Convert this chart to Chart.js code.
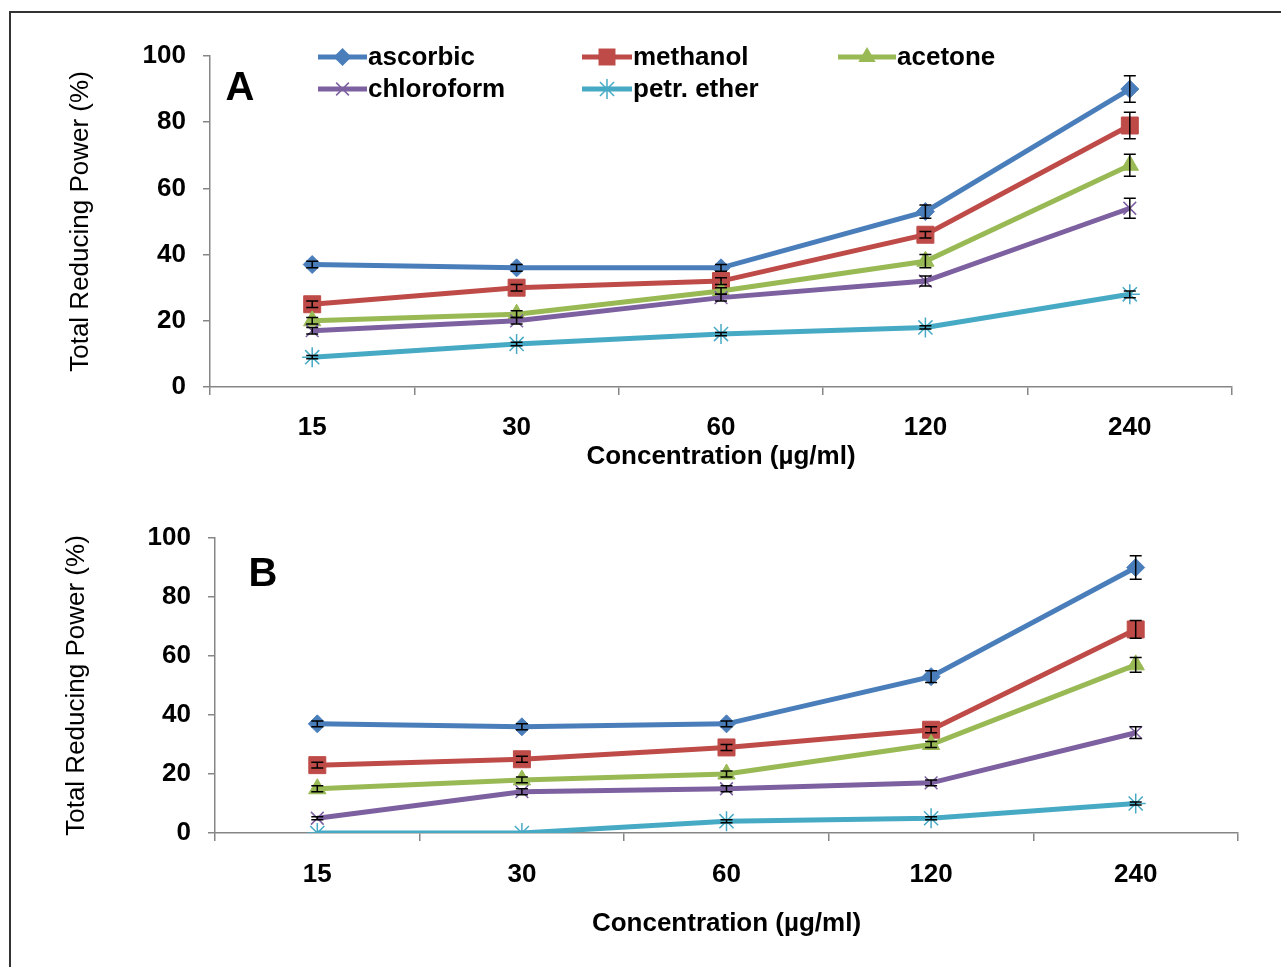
<!DOCTYPE html>
<html>
<head>
<meta charset="utf-8">
<script src="https://cdn.jsdelivr.net/npm/chart.js@4.4.0/dist/chart.umd.min.js"></script>
<style>
  html, body { margin: 0; padding: 0; background: #fff; }
  #page { position: relative; width: 1281px; height: 967px; overflow: hidden; }
  #frame { position: absolute; left: 9px; top: 11px; width: 1300px; height: 1000px;
           border-left: 2px solid #333; border-top: 2px solid #333; }
  #wrapA { position: absolute; left: 0; top: 0; width: 1281px; height: 480px; }
  #wrapB { position: absolute; left: 0; top: 480px; width: 1281px; height: 487px; }
</style>
</head>
<body>
<div id="page">
  <div id="frame"></div>
  <div id="wrapA"><canvas id="chartA"></canvas></div>
  <div id="wrapB"><canvas id="chartB"></canvas></div>
</div>
<script>
// Categories and series
const concentrations = ['15', '30', '60', '120', '240'];
const seriesNames = ['ascorbic', 'methanol', 'acetone', 'chloroform', 'petr. ether'];
const yTicks = [0, 20, 40, 60, 80, 100];

// Panel A values (%)
const ascorbicA   = [37, 36, 36, 53, 90];
const methanolA   = [25, 30, 32, 46, 79];
const acetoneA    = [20, 22, 29, 38, 67];
const chloroformA = [17, 20, 27, 32, 54];
const petrEtherA  = [9, 13, 16, 18, 28];
// Panel A error (+/-)
const ascorbicErrA   = [1, 1, 1, 2, 4];
const methanolErrA   = [1, 1, 1, 1, 4];
const acetoneErrA    = [1, 1, 1, 2, 3.3];
const chloroformErrA = [1, 1, 1, 1.5, 3];
const petrEtherErrA  = [0.5, 0.5, 0.5, 0.5, 1];

// Panel B values (%)
const ascorbicB   = [37, 36, 37, 53, 90];
const methanolB   = [23, 25, 29, 35, 69];
const acetoneB    = [15, 18, 20, 30, 57];
const chloroformB = [5, 14, 15, 17, 34];
const petrEtherB  = [0, 0, 4, 5, 10];
// Panel B error (+/-)
const ascorbicErrB   = [1, 1, 1, 2, 4];
const methanolErrB   = [1, 1, 1, 1, 3];
const acetoneErrB    = [1, 1, 1, 1, 2.5];
const chloroformErrB = [0.5, 1, 1, 1, 2];
const petrEtherErrB  = [0, 0, 0.5, 0.5, 0.5];

const colors = ['#4a7ebb', '#be4b48', '#98b954', '#7d60a0', '#46aac5'];
const markers = ['rectRot', 'rect', 'triangle', 'crossRot', 'star'];
const markerSize = [9, 12, 10, 9, 10];
const FONT = "'Liberation Sans', Arial, sans-serif";

// draws a marker like Chart.js point styles (used for the legend)
function drawMarker(ctx, style, x, y, r, color) {
    ctx.save();
    ctx.fillStyle = color;
    ctx.strokeStyle = color;
    ctx.lineWidth = 1.5;
    ctx.beginPath();
    if (style === 'rectRot') {
        ctx.moveTo(x, y - r); ctx.lineTo(x + r, y); ctx.lineTo(x, y + r); ctx.lineTo(x - r, y);
        ctx.closePath(); ctx.fill();
    } else if (style === 'rect') {
        const s = r * Math.SQRT1_2;
        ctx.rect(x - s, y - s, 2 * s, 2 * s); ctx.fill();
    } else if (style === 'triangle') {
        ctx.moveTo(x, y - r); ctx.lineTo(x + r * 0.87, y + r * 0.5); ctx.lineTo(x - r * 0.87, y + r * 0.5);
        ctx.closePath(); ctx.fill();
    } else {
        const d = r * Math.SQRT1_2;
        ctx.moveTo(x - d, y - d); ctx.lineTo(x + d, y + d);
        ctx.moveTo(x - d, y + d); ctx.lineTo(x + d, y - d);
        if (style === 'star') { ctx.moveTo(x, y - r); ctx.lineTo(x, y + r); }
        ctx.stroke();
    }
    ctx.restore();
}

// error bars from dataset.errors
const errorBars = {
    id: 'errorBars',
    afterDatasetsDraw(chart) {
        const ctx = chart.ctx;
        const yScale = chart.scales.y;
        ctx.save();
        ctx.strokeStyle = '#000';
        ctx.lineWidth = 1.5;
        chart.data.datasets.forEach((ds, i) => {
            const meta = chart.getDatasetMeta(i);
            ds.data.forEach((v, j) => {
                const e = ds.errors[j];
                if (!e) return;
                const x = meta.data[j].x;
                const y1 = yScale.getPixelForValue(v + e);
                const y2 = yScale.getPixelForValue(Math.max(v - e, 0));
                ctx.beginPath();
                ctx.moveTo(x, y1); ctx.lineTo(x, y2);
                ctx.moveTo(x - 6, y1); ctx.lineTo(x + 6, y1);
                ctx.moveTo(x - 6, y2); ctx.lineTo(x + 6, y2);
                ctx.stroke();
            });
        });
        ctx.restore();
    }
};

// panel letter and (optional) legend inside the plot
const panelDecor = {
    id: 'panelDecor',
    afterDraw(chart, args, opts) {
        const ctx = chart.ctx;
        ctx.save();
        ctx.fillStyle = '#000';
        ctx.textBaseline = 'middle';
        ctx.textAlign = 'center';
        ctx.font = 'bold 40px ' + FONT;
        ctx.fillText(opts.tag, opts.tagX, opts.tagY);
        if (opts.legend) {
            const items = opts.legend;
            ctx.font = 'bold 26px ' + FONT;
            ctx.textAlign = 'left';
            items.forEach(it => {
                const i = it.index;
                ctx.strokeStyle = colors[i];
                ctx.lineWidth = 5;
                ctx.beginPath();
                ctx.moveTo(it.x, it.y);
                ctx.lineTo(it.x + it.len, it.y);
                ctx.stroke();
                drawMarker(ctx, markers[i], it.x + it.len / 2, it.y, markerSize[i], colors[i]);
                ctx.fillStyle = '#000';
                ctx.fillText(seriesNames[i], it.x + it.len + 1, it.y + 1);
            });
        }
        ctx.restore();
    }
};

function buildDatasets(values, errors) {
    return values.map((vals, i) => ({
        label: seriesNames[i],
        data: vals,
        errors: errors[i],
        borderColor: colors[i],
        backgroundColor: colors[i],
        borderWidth: 5,
        tension: 0,
        pointStyle: markers[i],
        pointRadius: markerSize[i],
        pointBorderWidth: (i >= 3) ? 1.5 : 1,
        pointBackgroundColor: colors[i],
        pointBorderColor: colors[i],
        order: 4 - i
    }));
}

function makeChart(id, values, errors, geo, decor) {
    return new Chart(document.getElementById(id), {
        type: 'line',
        data: { labels: concentrations, datasets: buildDatasets(values, errors) },
        options: {
            responsive: true,
            maintainAspectRatio: false,
            animation: false,
            events: [],
            layout: { padding: { left: 0, right: geo.right, top: geo.top, bottom: 0 } },
            plugins: {
                legend: { display: false },
                tooltip: { enabled: false },
                panelDecor: decor
            },
            scales: {
                x: {
                    offset: true,
                    border: { color: '#868686', width: 1.5 },
                    grid: { offset: true, drawOnChartArea: false, color: '#868686', tickLength: 8, lineWidth: 1.5 },
                    ticks: { color: '#000', font: { family: FONT, size: 26, weight: 'bold' }, padding: geo.xTickPad, maxRotation: 0 },
                    title: { display: true, text: 'Concentration (µg/ml)', color: '#000',
                             font: { family: FONT, size: 26, weight: 'bold' },
                             padding: { top: 0, bottom: geo.xTitlePad } },
                    afterFit(scale) { scale.height = geo.xHeight; }
                },
                y: {
                    min: 0, max: 100,
                    afterBuildTicks(scale) { scale.ticks = yTicks.map(v => ({ value: v })); },
                    border: { color: '#868686', width: 1.5 },
                    grid: { drawOnChartArea: false, color: '#868686', tickLength: 7, lineWidth: 1.5 },
                    ticks: { color: '#000', font: { family: FONT, size: 26, weight: 'bold' }, padding: 17 },
                    title: { display: true, text: 'Total Reducing Power (%)', color: '#000',
                             font: { family: FONT, size: 26, weight: 'normal' },
                             padding: { top: geo.yTitlePad, bottom: 0 } },
                    afterFit(scale) { scale.width = geo.yWidth; }
                }
            }
        },
        plugins: [errorBars, panelDecor]
    });
}

makeChart('chartA',
    [ascorbicA, methanolA, acetoneA, chloroformA, petrEtherA],
    [ascorbicErrA, methanolErrA, acetoneErrA, chloroformErrA, petrEtherErrA],
    { right: 49, top: 56, xHeight: 93, yWidth: 210, xTickPad: 17, xTitlePad: 8, yTitlePad: 65 },
    { tag: 'A', tagX: 240, tagY: 89,
      legend: [
        { index: 0, x: 318, y: 57, len: 49 },
        { index: 1, x: 582, y: 57, len: 50 },
        { index: 2, x: 838, y: 57, len: 58 },
        { index: 3, x: 318, y: 89, len: 49 },
        { index: 4, x: 582, y: 89, len: 50 }
      ] });

makeChart('chartB',
    [ascorbicB, methanolB, acetoneB, chloroformB, petrEtherB],
    [ascorbicErrB, methanolErrB, acetoneErrB, chloroformErrB, petrEtherErrB],
    { right: 43, top: 58, xHeight: 134, yWidth: 215, xTickPad: 18, xTitlePad: 28, yTitlePad: 61 },
    { tag: 'B', tagX: 263, tagY: 95 });
</script>
</body>
</html>
